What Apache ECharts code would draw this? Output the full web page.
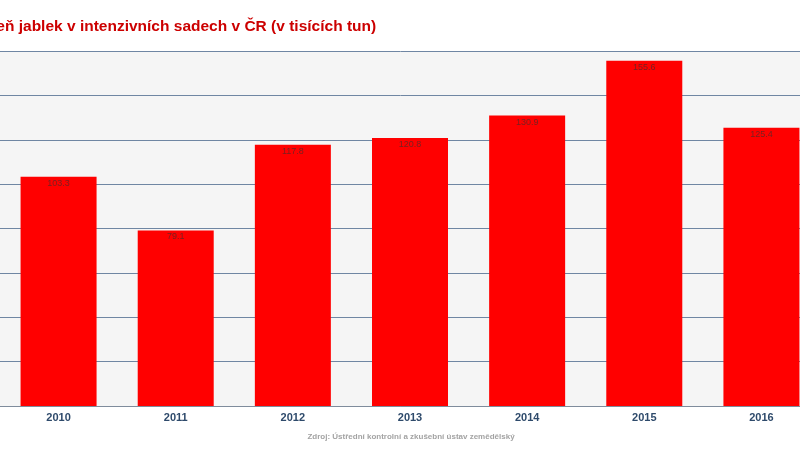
<!DOCTYPE html>
<html><head><meta charset="utf-8">
<script src="https://cdn.jsdelivr.net/npm/echarts@6/dist/echarts.min.js"></script>
<style>html,body{margin:0;padding:0;background:#fff}#c{width:800px;height:450px}</style>
</head><body><div id="c"></div>
<script>
const categories = ['2010','2011','2012','2013','2014','2015','2016'];
const values = [103.3, 79.1, 117.8, 120.8, 130.9, 155.6, 125.4];
const titleText = 'Sklizeň jablek v intenzivních sadech v ČR (v tisících tun)';
const sourceText = 'Zdroj: Ústřední kontrolní a zkušební ústav zemědělský';
const FONT = "'Liberation Sans', Arial, sans-serif";

const chart = echarts.init(document.getElementById('c'));
chart.setOption({
  animation: false,
  title: {
    text: titleText, left: -44, top: 14,
    textStyle: {color: '#cc0000', fontSize: 15.5, fontWeight: 'bold', fontFamily: FONT}
  },
  graphic: [{
    type: 'text', x: 411, y: 437,
    style: {text: sourceText, fill: '#a3a3a3', fontSize: 8, fontWeight: 'bold', align: 'center', verticalAlign: 'middle', fontFamily: FONT}
  }],
  grid: {left: 0, top: 51, width: 820, height: 355, show: true, backgroundColor: '#f5f5f5', borderWidth: 0, containLabel: false, outerBoundsMode: 'none'},
  xAxis: {
    type: 'category', data: categories,
    axisLine: {lineStyle: {color: '#7f8c9c', width: 1}},
    axisTick: {show: false},
    axisLabel: {color: '#2e4a6b', fontWeight: 'bold', fontSize: 11, margin: 6, fontFamily: FONT}
  },
  yAxis: {
    type: 'value', min: 0, max: 160, interval: 20,
    axisLabel: {show: false}, axisLine: {show: false}, axisTick: {show: false},
    splitLine: {lineStyle: {color: '#6f86a3', width: 1}}
  },
  series: [{
    type: 'bar', data: values, barWidth: 76,
    itemStyle: {color: '#ff0000'},
    label: {show: true, position: 'insideTop', distance: 2, color: '#7a2020', fontSize: 9, fontFamily: FONT}
  }]
});
</script></body></html>
